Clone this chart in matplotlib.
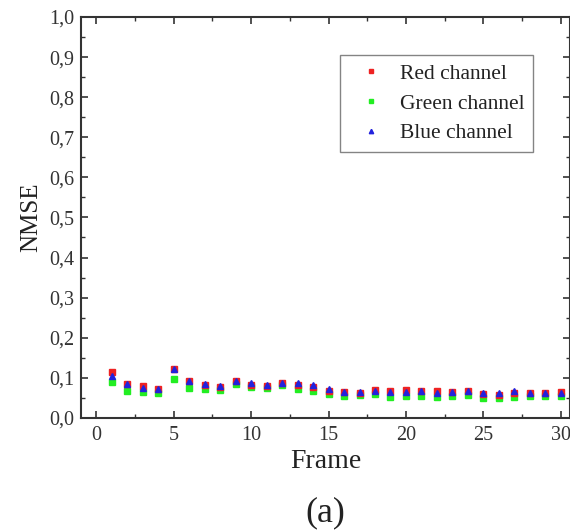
import matplotlib
matplotlib.use("Agg")
import matplotlib.pyplot as plt
from matplotlib.ticker import MultipleLocator, FuncFormatter

# values
frames = list(range(1, 31))
red = [0.114, 0.084, 0.080, 0.072, 0.123, 0.092, 0.082, 0.078, 0.092, 0.083,
       0.079, 0.088, 0.082, 0.078, 0.068, 0.064, 0.062, 0.070, 0.068, 0.070,
       0.066, 0.066, 0.064, 0.068, 0.060, 0.058, 0.062, 0.062, 0.063, 0.065]
green = [0.089, 0.068, 0.064, 0.063, 0.097, 0.074, 0.072, 0.070, 0.085, 0.076,
         0.074, 0.082, 0.072, 0.066, 0.059, 0.055, 0.056, 0.059, 0.053, 0.054,
         0.055, 0.052, 0.055, 0.058, 0.049, 0.050, 0.053, 0.054, 0.055, 0.054]
blue = [0.105, 0.084, 0.074, 0.072, 0.123, 0.092, 0.085, 0.080, 0.092, 0.086,
        0.081, 0.088, 0.086, 0.082, 0.072, 0.064, 0.064, 0.066, 0.064, 0.064,
        0.066, 0.062, 0.064, 0.066, 0.063, 0.063, 0.067, 0.062, 0.063, 0.062]

plt.rcParams['font.family'] = ['Liberation Serif', 'DejaVu Serif']

fig = plt.figure(figsize=(5.7, 5.31), dpi=100)
ax = fig.add_axes([0.142, 0.213, 0.858, 0.755])

ax.plot(frames, green, 's', color='#22ee22', markersize=4, label='Green channel', zorder=3)
ax.plot(frames, red, 's', color='#ee2222', markersize=4, label='Red channel', zorder=4)
ax.plot(frames, blue, '^', color='#2222dd', markersize=4.5, label='Blue channel', zorder=5)

ax.set_xlim(-1, 30.6)
ax.set_ylim(0, 1.0)
ax.xaxis.set_major_locator(MultipleLocator(5))
ax.xaxis.set_minor_locator(MultipleLocator(2.5))
ax.yaxis.set_major_locator(MultipleLocator(0.1))
ax.yaxis.set_minor_locator(MultipleLocator(0.05))
ax.yaxis.set_major_formatter(FuncFormatter(lambda v, p: f"{v:.1f}".replace('.', ',')))
ax.tick_params(which='both', direction='in', top=True, right=True, labelsize=14.5,
               colors='#333333', labelcolor='#333333')
ax.tick_params(which='major', length=5, width=1.2)
ax.tick_params(which='minor', length=3, width=1.0)
ax.tick_params(axis='x', pad=6)
ax.tick_params(axis='y', pad=5)
for s in ax.spines.values():
    s.set_linewidth(1.5)
    s.set_color('#333333')

ax.set_xlabel('Frame', fontsize=20, labelpad=3, color='#222222')
ax.set_ylabel('NMSE', fontsize=18, labelpad=5, color='#222222')

handles, labels = ax.get_legend_handles_labels()
order = [1, 0, 2]
leg = ax.legend([handles[i] for i in order], [labels[i] for i in order],
                loc='upper right', bbox_to_anchor=(0.925, 0.905), fontsize=15.5,
                fancybox=False, edgecolor='#666666', borderpad=0.4, labelspacing=0.45,
                handlelength=2.1, handletextpad=0.3, markerscale=0.7, borderaxespad=0)
for t in leg.get_texts():
    t.set_color('#222222')

fig.text(0.57, 0.035, '(a)', ha='center', va='center', fontsize=26, color='#222222')

plt.savefig('out.png', dpi=100)
